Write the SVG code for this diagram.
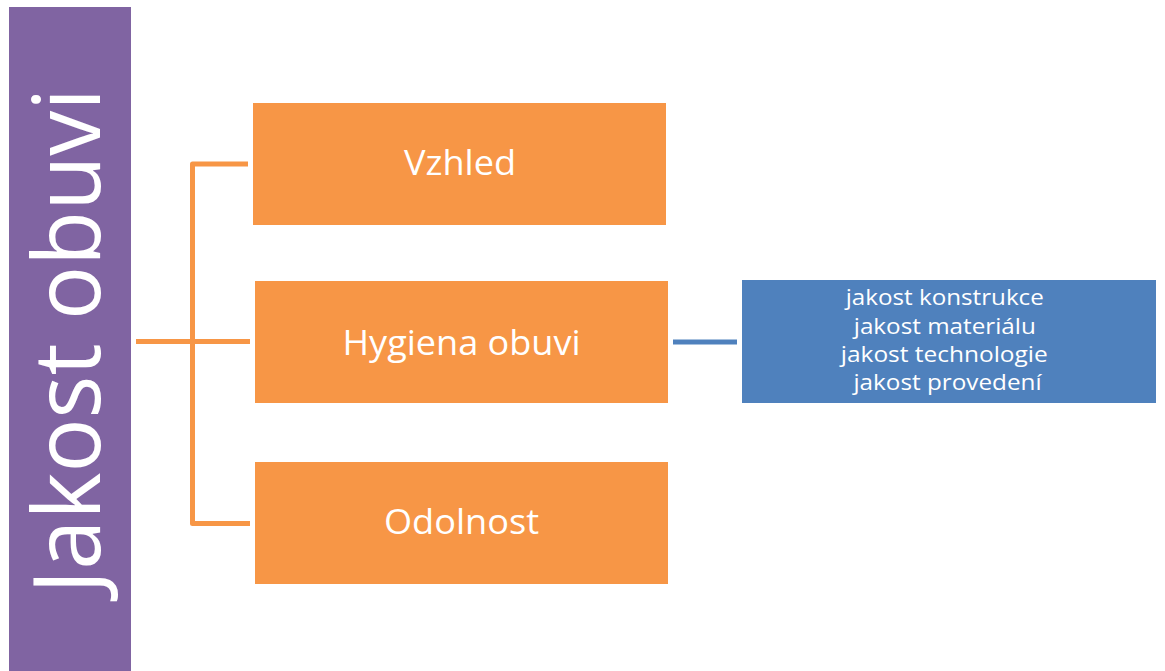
<svg xmlns="http://www.w3.org/2000/svg" width="1165" height="671" viewBox="0 0 1165 671">
  <style>
    .lbl { font-family: "Open Sans", "Liberation Sans", sans-serif; fill: #ffffff; text-anchor: middle; }
    .box-o { fill: #F79646; }
    .box-b { fill: #4F81BD; }
    .link-o { fill: none; stroke: #F79646; stroke-width: 5; stroke-linejoin: round; }
    .link-b { fill: none; stroke: #4F81BD; stroke-width: 5; }
  </style>
  <rect width="1165" height="671" fill="#ffffff"/>

  <!-- root: vertical title bar -->
  <g id="root">
    <rect x="9" y="7" width="122" height="664" fill="#8064A2"/>
    <text class="lbl" transform="translate(100,341) rotate(-90)" font-size="93" textLength="506" lengthAdjust="spacingAndGlyphs">Jakost obuvi</text>
  </g>

  <!-- connectors -->
  <g id="connectors">
    <path class="link-o" d="M248,164 H192.5 V523.5 H250"/>
    <path class="link-o" d="M136,341.5 H250"/>
    <path class="link-b" d="M673,342 H737"/>
  </g>

  <g id="vzhled">
    <rect class="box-o" x="253" y="103" width="413" height="122"/>
    <text class="lbl" x="460" y="175" font-size="35" textLength="112" lengthAdjust="spacingAndGlyphs">Vzhled</text>
  </g>

  <g id="hygiena">
    <rect class="box-o" x="255" y="281" width="413" height="122"/>
    <text class="lbl" x="461.5" y="355" font-size="35" textLength="238" lengthAdjust="spacingAndGlyphs">Hygiena obuvi</text>
  </g>

  <g id="odolnost">
    <rect class="box-o" x="255" y="462" width="413" height="122"/>
    <text class="lbl" x="461.5" y="534" font-size="35" textLength="155" lengthAdjust="spacingAndGlyphs">Odolnost</text>
  </g>

  <g id="detail">
    <rect class="box-b" x="742" y="280" width="414" height="123"/>
    <text class="lbl" font-size="21">
      <tspan x="947.5" y="305" textLength="198" lengthAdjust="spacingAndGlyphs">jakost konstrukce</tspan>
      <tspan x="947.5" y="333.5" textLength="182" lengthAdjust="spacingAndGlyphs">jakost materiálu</tspan>
      <tspan x="947" y="362" textLength="207" lengthAdjust="spacingAndGlyphs">jakost technologie</tspan>
      <tspan x="947.5" y="390" textLength="188" lengthAdjust="spacingAndGlyphs">jakost provedení</tspan>
    </text>
  </g>
</svg>
